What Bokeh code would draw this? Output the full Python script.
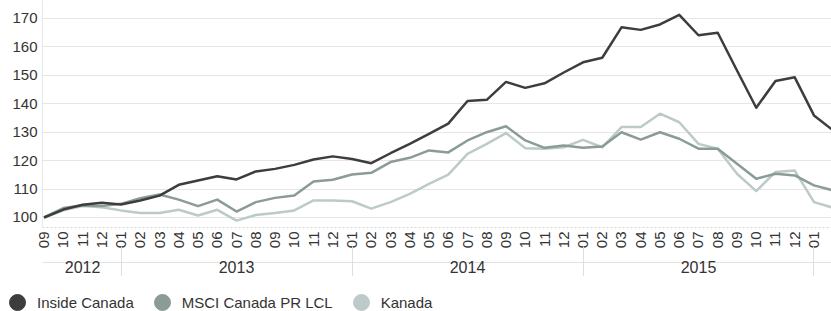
import math
from bokeh.plotting import figure
from bokeh.layouts import column
from bokeh.models import Range1d, FixedTicker, LinearAxis, Legend, LegendItem
from bokeh.embed import file_html
from bokeh.resources import INLINE

# ---- data (monthly index, 2012-09 .. 2016-02) ----
months = ["09", "10", "11", "12"] + [f"{m:02d}" for m in range(1, 13)] * 3 + ["01", "02"]
years = ["2012", "2013", "2014", "2015"]
year_centers = [2, 10, 22, 34]
year_starts = [4, 16, 28, 40]

inside_canada = [100, 102.8, 104.5, 105.2, 104.6, 106, 107.7, 111.5, 113, 114.5,
                 113.4, 116.2, 117.1, 118.5, 120.4, 121.5, 120.6, 119.1, 122.6, 125.9,
                 129.4, 133, 141, 141.4, 147.7, 145.6, 147.2, 151, 154.6, 156.2,
                 166.9, 166, 167.9, 171.3, 164.1, 165, 151.7, 138.6, 148, 149.3,
                 135.9, 130.6]
msci_canada = [100, 103.3, 104.2, 104, 104.8, 106.8, 108.1, 106.3, 104, 106.3,
               102.1, 105.4, 106.9, 107.7, 112.7, 113.3, 115.1, 115.7, 119.5, 121,
               123.6, 122.9, 127.1, 130, 132.1, 127.1, 124.5, 125.3, 124.5, 125,
               130, 127.4, 130, 127.7, 124.2, 124.2, 118.9, 113.6, 115.4, 114.8,
               111.3, 109.5]
kanada = [100, 102.5, 104, 103.6, 102.5, 101.6, 101.6, 102.7, 100.7, 102.7,
          98.9, 100.9, 101.6, 102.5, 106, 106, 105.7, 103.1, 105.4, 108.3,
          111.8, 115.1, 122.4, 125.9, 129.7, 124.4, 124.2, 124.7, 127.3, 124.7,
          131.8, 131.8, 136.5, 133.5, 125.9, 124.2, 115.4, 109.3, 116, 116.5,
          105.4, 103.4]
series_names = ["Inside Canada", "MSCI Canada PR LCL", "Kanada"]
y_ticks = [100, 110, 120, 130, 140, 150, 160, 170]

colors = ["#3d3d3d", "#8b9b98", "#bccbc9"]
FONT = "Liberation Sans"
TXT = "#333333"

x = list(range(len(months)))

p = figure(width=831, height=276, output_backend="svg", toolbar_location=None,
           x_range=Range1d(-0.08, 40.91), y_range=Range1d(96.48, 176.33),
           min_border_left=42, min_border_right=0, min_border_top=0,
           min_border_bottom=49, x_axis_location=None, y_axis_location="left")
p.frame_align = False
p.outline_line_color = None
p.background_fill_color = "white"
p.border_fill_color = "white"

# y axis
p.yaxis.ticker = FixedTicker(ticks=y_ticks)
p.yaxis.major_tick_out = 0
p.yaxis.major_tick_in = 0
p.yaxis.minor_tick_out = 0
p.yaxis.minor_tick_in = 0
p.yaxis.axis_line_color = "#e8e8e8"
p.yaxis.major_label_text_font = FONT
p.yaxis.major_label_text_font_size = "15px"
p.yaxis.major_label_text_color = TXT
p.yaxis.major_label_standoff = 5
p.ygrid.ticker = FixedTicker(ticks=y_ticks)
p.ygrid.grid_line_color = "#e6e6e6"
p.xgrid.grid_line_color = None

# month axis (labels read bottom-to-top)
month_axis = LinearAxis(ticker=FixedTicker(ticks=x),
                        major_label_overrides={i: m for i, m in enumerate(months)})
month_axis.major_label_orientation = math.pi / 2
month_axis.major_tick_in = 0
month_axis.major_tick_out = 0
month_axis.minor_tick_in = 0
month_axis.minor_tick_out = 0
month_axis.axis_line_color = "#d4d4d4"
month_axis.axis_line_dash = "2 2"
month_axis.major_label_text_font = FONT
month_axis.major_label_text_font_size = "15px"
month_axis.major_label_text_color = TXT
month_axis.major_label_standoff = 4
month_axis.axis_label = " "
month_axis.axis_label_text_font_size = "6px"
month_axis.axis_label_standoff = 2
p.add_layout(month_axis, "below")

# year axis (group labels with separators)
year_axis = LinearAxis(ticker=FixedTicker(ticks=year_centers, minor_ticks=year_starts),
                       major_label_overrides={c: yv for c, yv in zip(year_centers, years)})
year_axis.major_tick_in = 0
year_axis.major_tick_out = 0
year_axis.minor_tick_in = 16
year_axis.minor_tick_out = 21
year_axis.minor_tick_line_color = "#dedede"
year_axis.axis_line_color = "#e2e2e2"
year_axis.major_label_text_font = FONT
year_axis.major_label_text_font_size = "16px"
year_axis.major_label_text_color = TXT
year_axis.major_label_standoff = -23
p.add_layout(year_axis, "below")

# lines
for vals, c in [(kanada, colors[2]), (msci_canada, colors[1]), (inside_canada, colors[0])]:
    p.line(x, vals, line_width=2.5, line_color=c, line_join="round")

# legend strip (separate small figure, frame not aligned with the chart)
lg = figure(width=831, height=35, output_backend="svg", toolbar_location=None,
            x_range=Range1d(0, 1), y_range=Range1d(0, 1),
            x_axis_location=None, y_axis_location=None,
            min_border_left=0, min_border_right=0, min_border_top=0, min_border_bottom=0)
lg.frame_align = False
lg.outline_line_color = None
lg.grid.visible = False
lg.background_fill_color = "white"
lg.border_fill_color = "white"

items = []
for name, c in zip(series_names, colors):
    # legend-only marker (point placed outside the visible range)
    r = lg.scatter(x=[-10], y=[-10], marker="circle", size=10, fill_color=c, line_color=c)
    items.append(LegendItem(label=name, renderers=[r]))

legend = Legend(items=items, location=(-3, -13), orientation="horizontal",
                glyph_width=40, glyph_height=44, label_standoff=0, spacing=8,
                padding=0, margin=0, border_line_color=None, background_fill_alpha=0,
                label_text_font=FONT, label_text_font_size="15px", label_text_color=TXT)
lg.add_layout(legend)

layout = column(p, lg, spacing=0)
open("out.html", "w").write(file_html(layout, INLINE))
